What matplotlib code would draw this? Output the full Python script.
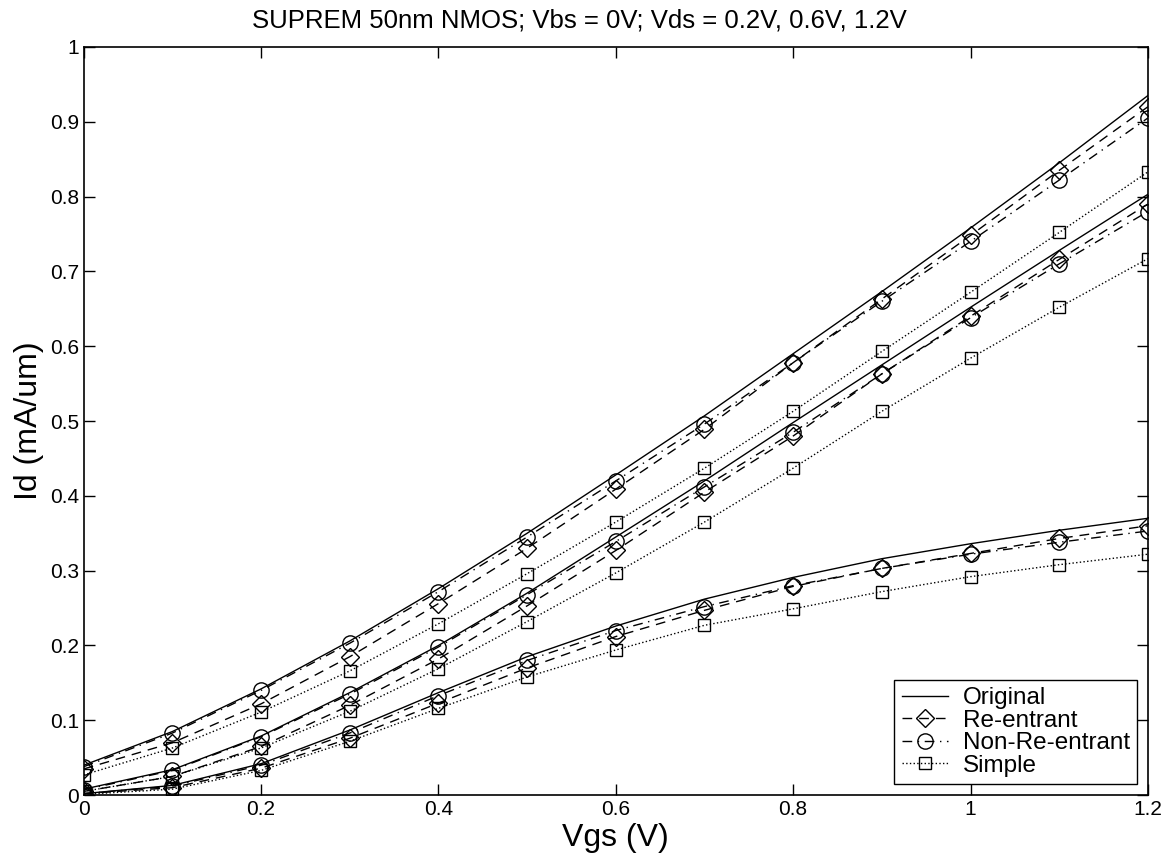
import matplotlib
matplotlib.use("Agg")
import matplotlib.pyplot as plt

plt.rcParams["font.family"] = ["Liberation Sans", "DejaVu Sans"]

# gate voltage sweep
vgs = [0.0, 0.1, 0.2, 0.3, 0.4, 0.5, 0.6, 0.7, 0.8, 0.9, 1.0, 1.1, 1.2]

# Vds = 1.2V
orig_12 = [0.040, 0.085, 0.142, 0.206, 0.276, 0.350, 0.428, 0.507, 0.590, 0.673, 0.758, 0.845, 0.935]
reent_12 = [0.035, 0.070, 0.122, 0.185, 0.256, 0.330, 0.409, 0.489, 0.578, 0.663, 0.748, 0.835, 0.920]
nonre_12 = [0.038, 0.083, 0.140, 0.203, 0.272, 0.345, 0.420, 0.496, 0.578, 0.660, 0.740, 0.822, 0.905]
simple_12 = [0.027, 0.063, 0.111, 0.166, 0.229, 0.296, 0.365, 0.437, 0.513, 0.593, 0.672, 0.752, 0.833]

# Vds = 0.6V
orig_06 = [0.008, 0.034, 0.079, 0.137, 0.200, 0.270, 0.345, 0.420, 0.498, 0.575, 0.652, 0.728, 0.803]
reent_06 = [0.005, 0.025, 0.065, 0.120, 0.182, 0.253, 0.327, 0.405, 0.480, 0.563, 0.640, 0.716, 0.790]
nonre_06 = [0.007, 0.033, 0.078, 0.135, 0.198, 0.268, 0.339, 0.412, 0.485, 0.563, 0.638, 0.710, 0.780]
simple_06 = [0.005, 0.025, 0.063, 0.112, 0.169, 0.232, 0.297, 0.365, 0.437, 0.513, 0.584, 0.652, 0.717]

# Vds = 0.2V
orig_02 = [0.002, 0.013, 0.042, 0.087, 0.137, 0.185, 0.226, 0.262, 0.291, 0.316, 0.336, 0.354, 0.370]
reent_02 = [0.002, 0.010, 0.036, 0.076, 0.123, 0.170, 0.212, 0.247, 0.279, 0.303, 0.323, 0.343, 0.360]
nonre_02 = [0.002, 0.012, 0.040, 0.083, 0.133, 0.180, 0.220, 0.252, 0.280, 0.303, 0.322, 0.338, 0.353]
simple_02 = [0.001, 0.008, 0.033, 0.072, 0.116, 0.158, 0.194, 0.227, 0.249, 0.272, 0.292, 0.308, 0.322]

fig = plt.figure(figsize=(11.63, 8.61), dpi=100)
ax = fig.add_axes([0.072, 0.0765, 0.915, 0.869])

lw = 1.0
groups = [
    (orig_12, reent_12, nonre_12, simple_12),
    (orig_06, reent_06, nonre_06, simple_06),
    (orig_02, reent_02, nonre_02, simple_02),
]
for i, (o, r, n, s) in enumerate(groups):
    first = i == 0
    ax.plot(vgs, o, "-", color="black", lw=lw, label="Original" if first else None)
    ax.plot(vgs, r, "--", color="black", lw=lw, marker="D", ms=9, mfc="none",
            mew=1.0, dashes=(7, 5), label="Re-entrant" if first else None)
    ax.plot(vgs, n, "-.", color="black", lw=lw, marker="o", ms=11, mfc="none",
            mew=1.0, dashes=(7, 4, 1, 4), label="Non-Re-entrant" if first else None)
    ax.plot(vgs, s, ":", color="black", lw=lw, marker="s", ms=9, mfc="none",
            mew=1.0, label="Simple" if first else None)

ax.set_xlim(0, 1.2)
ax.set_ylim(0, 1)
ax.set_xticks([0, 0.2, 0.4, 0.6, 0.8, 1, 1.2])
ax.set_xticklabels(["0", "0.2", "0.4", "0.6", "0.8", "1", "1.2"])
ax.set_yticks([0, 0.1, 0.2, 0.3, 0.4, 0.5, 0.6, 0.7, 0.8, 0.9, 1])
ax.set_yticklabels(["0", "0.1", "0.2", "0.3", "0.4", "0.5", "0.6", "0.7", "0.8", "0.9", "1"])
ax.tick_params(direction="in", length=8, width=1, top=True, right=True, labelsize=15)
for sp in ax.spines.values():
    sp.set_linewidth(1.2)

ax.set_title("SUPREM 50nm NMOS; Vbs = 0V; Vds = 0.2V, 0.6V, 1.2V", fontsize=18.5,
             x=0.466, pad=14)
ax.set_xlabel("Vgs (V)", fontsize=23, labelpad=3)
ax.set_ylabel("Id (mA/um)", fontsize=23, labelpad=4)

leg = ax.legend(loc="lower right", fontsize=17.5, frameon=True, fancybox=False,
                edgecolor="black", framealpha=1, borderpad=0.3, labelspacing=0.02,
                handlelength=1.9, handletextpad=0.6, borderaxespad=0.45)
leg.get_frame().set_linewidth(1.0)

fig.savefig("out.png", dpi=100)
